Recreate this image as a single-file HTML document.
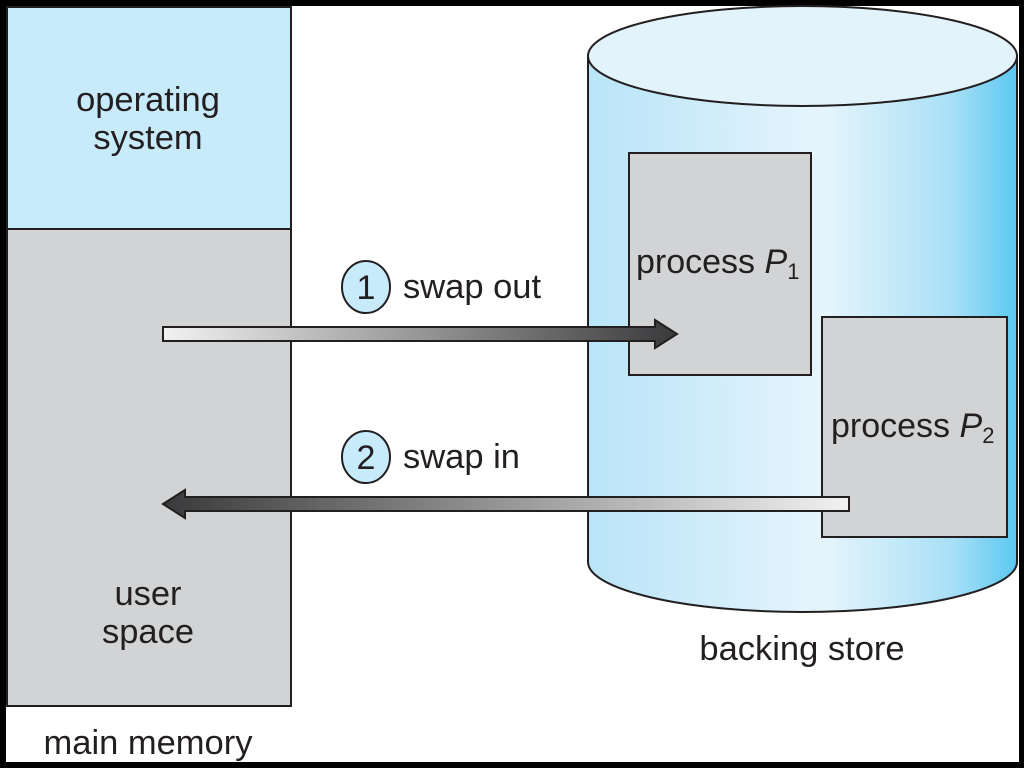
<!DOCTYPE html>
<html><head><meta charset="utf-8"><style>
body{margin:0;background:#000;}
svg{display:block}
text{font-family:"Liberation Sans",sans-serif;fill:#231f20;}
</style></head><body>
<svg width="1024" height="768" viewBox="0 0 1024 768" xmlns="http://www.w3.org/2000/svg">
<defs>
<linearGradient id="cyl" x1="0" x2="1" y1="0" y2="0">
<stop offset="0" stop-color="#b9e4f8"/>
<stop offset="0.55" stop-color="#e6f5fc"/>
<stop offset="0.85" stop-color="#a8dff6"/>
<stop offset="1" stop-color="#5cc8f0"/>
</linearGradient>
<linearGradient id="a1" x1="0" x2="1"><stop offset="0" stop-color="#f2f2f2"/><stop offset="1" stop-color="#3a3a3c"/></linearGradient>
<linearGradient id="a2" x1="1" x2="0"><stop offset="0" stop-color="#f2f2f2"/><stop offset="1" stop-color="#3a3a3c"/></linearGradient>
</defs>
<rect x="6" y="6" width="1013" height="756" fill="#fff"/>
<rect x="7" y="7" width="284" height="222" fill="#c8ebfb" stroke="#231f20" stroke-width="2"/>
<rect x="7" y="229" width="284" height="477" fill="#d2d3d5" stroke="#231f20" stroke-width="2"/>
<g font-size="34.5">
<text x="148" y="111" text-anchor="middle">operating</text>
<text x="148" y="149" text-anchor="middle">system</text>
<text x="148" y="605" text-anchor="middle">user</text>
<text x="148" y="643" text-anchor="middle">space</text>
<text x="148" y="754" text-anchor="middle">main memory</text>
</g>
<path d="M588 56 L588 562 A214.5 50 0 0 0 1017 562 L1017 56 Z" fill="url(#cyl)" stroke="#231f20" stroke-width="2"/>
<ellipse cx="802.5" cy="56" rx="214.5" ry="50" fill="#e2f3fc" stroke="#231f20" stroke-width="2"/>
<text x="802" y="660" font-size="34.5" text-anchor="middle">backing store</text>
<rect x="629" y="153" width="182" height="222" fill="#d2d3d5" stroke="#231f20" stroke-width="2"/>
<rect x="822" y="317" width="185" height="220" fill="#d2d3d5" stroke="#231f20" stroke-width="2"/>
<text x="636" y="273" font-size="34">process <tspan font-style="italic">P</tspan><tspan font-size="22" dy="6">1</tspan></text>
<text x="831" y="437" font-size="34">process <tspan font-style="italic">P</tspan><tspan font-size="22" dy="6">2</tspan></text>
<path d="M163 327 L655 327 L655 320 L677 334 L655 348 L655 341 L163 341 Z" fill="url(#a1)" stroke="#231f20" stroke-width="2"/>
<path d="M849 497 L185 497 L185 490 L163 504 L185 518 L185 511 L849 511 Z" fill="url(#a2)" stroke="#231f20" stroke-width="2"/>
<ellipse cx="366" cy="287" rx="24" ry="26" fill="#c8ebfb" stroke="#231f20" stroke-width="2"/>
<ellipse cx="366" cy="457" rx="24" ry="26" fill="#c8ebfb" stroke="#231f20" stroke-width="2"/>
<text x="366" y="299" font-size="34" text-anchor="middle">1</text>
<text x="366" y="469" font-size="34" text-anchor="middle">2</text>
<text x="403" y="298" font-size="34.5">swap out</text>
<text x="403" y="468" font-size="34.5">swap in</text>
</svg>
</body></html>
